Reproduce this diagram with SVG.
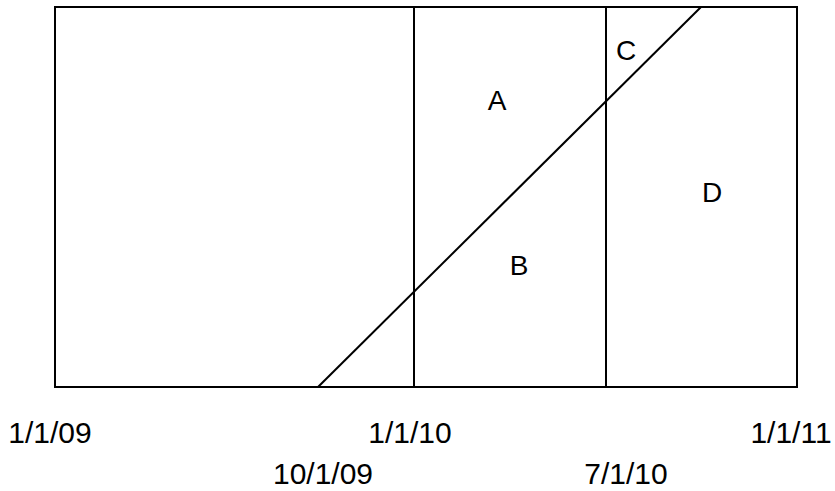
<svg xmlns="http://www.w3.org/2000/svg" width="835" height="491" viewBox="0 0 835 491">
<style>
.ln{stroke:#000;stroke-width:2;fill:none}
text{font-family:"Liberation Sans",Arial,sans-serif;fill:#000}
.ax{font-size:30px}
.rg{font-size:28px}
</style>
<rect width="835" height="491" fill="#fff"/>
<g id="frame"><rect class="ln" x="55" y="7" width="742" height="380"/></g>
<g id="connectors">
<line class="ln" x1="414" y1="7" x2="414" y2="387"/>
<line class="ln" x1="606" y1="7" x2="606" y2="387"/>
<line class="ln" x1="318" y1="387" x2="701" y2="7"/>
</g>
<g id="regions">
<text class="rg" x="497" y="110" text-anchor="middle">A</text>
<text class="rg" x="519" y="275" text-anchor="middle">B</text>
<text class="rg" x="626" y="60" text-anchor="middle">C</text>
<text class="rg" x="712" y="202" text-anchor="middle">D</text>
</g>
<g id="axis">
<text class="ax" x="50" y="443" text-anchor="middle">1/1/09</text>
<text class="ax" x="410" y="443" text-anchor="middle">1/1/10</text>
<text class="ax" x="791" y="443" text-anchor="middle">1/1/11</text>
<text class="ax" x="323" y="484" text-anchor="middle">10/1/09</text>
<text class="ax" x="626" y="484" text-anchor="middle">7/1/10</text>
</g>
</svg>
